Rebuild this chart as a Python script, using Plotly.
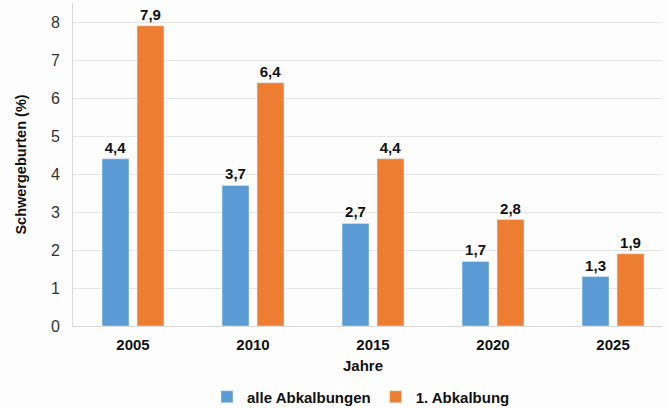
import plotly.graph_objects as go

years = ["2005", "2010", "2015", "2020", "2025"]
alle = [4.4, 3.7, 2.7, 1.7, 1.3]
erste = [7.9, 6.4, 4.4, 2.8, 1.9]

FONT = "Liberation Sans, Arial, sans-serif"

fig = go.Figure()
fig.add_trace(go.Bar(
    x=years, y=alle, name="alle Abkalbungen",
    marker_color="#5B9BD5",
    texttemplate="%{y:.1f}", textposition="outside", cliponaxis=False,
    textfont=dict(size=15, color="#111111", family=FONT, weight="bold"),
))
fig.add_trace(go.Bar(
    x=years, y=erste, name="1. Abkalbung",
    marker_color="#ED7D31",
    texttemplate="%{y:.1f}", textposition="outside", cliponaxis=False,
    textfont=dict(size=15, color="#111111", family=FONT, weight="bold"),
))

# plot area: x 73..662, y 3..326 (px)
fig.update_layout(
    width=670, height=408,
    margin=dict(l=73, r=8, t=3, b=82, autoexpand=False),
    paper_bgcolor="#FDFDFD", plot_bgcolor="#FDFDFD",
    separators=",.",
    barmode="group", bargap=0.417, bargroupgap=0.23,
    font=dict(family=FONT, size=15, color="#333333"),
    showlegend=True,
    legend=dict(
        orientation="h",
        x=(361 - 73) / 589, y=(326 - 397) / 323, xanchor="center", yanchor="middle",
        font=dict(size=15, color="#111111", weight="bold"),
        traceorder="normal", itemwidth=30,
    ),
    xaxis=dict(
        type="category", range=[-0.5, 4.408], automargin=False,
        showline=True, linecolor="#D9D9D9", linewidth=1,
        tickfont=dict(size=15, color="#111111", weight="bold"),
        ticks="", ticklabelstandoff=5,
    ),
    yaxis=dict(
        range=[0, 8.5], dtick=1, showline=True, linecolor="#D9D9D9",
        automargin=False,
        gridcolor="#E6E6E6", zeroline=False, ticks="", ticklabelstandoff=9,
        tickfont=dict(size=16, color="#333333"),
        title=dict(text="Schwergeburten (%)", standoff=20,
                   font=dict(size=14.5, color="#111111", weight="bold")),
    ),
    annotations=[dict(
        text="Jahre", xref="paper", yref="paper",
        x=(363 - 73) / 589, y=(326 - 365) / 323, xanchor="center", yanchor="middle",
        showarrow=False, font=dict(size=15, color="#111111", weight="bold"),
    )],
)

fig.write_html("out.html", config={"displayModeBar": False},
               post_script="document.body.style.margin='0';")
